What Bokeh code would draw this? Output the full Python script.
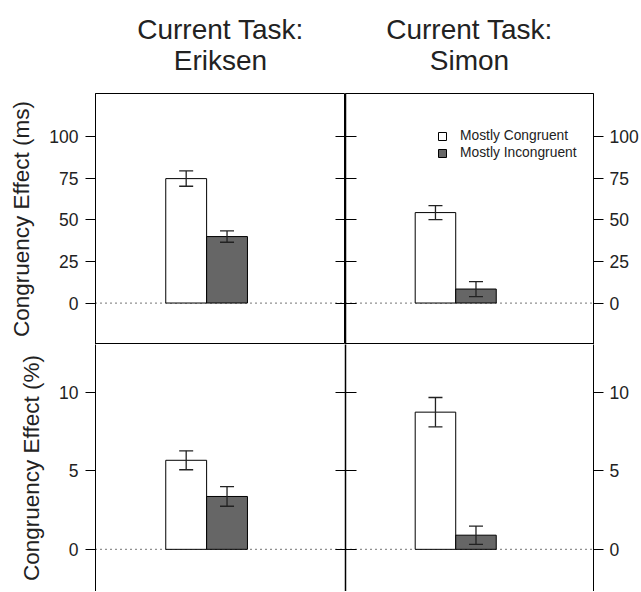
from bokeh.plotting import figure
from bokeh.models import (Range1d, LinearAxis, FixedTicker, Span, Whisker, TeeHead,
                          ColumnDataSource, Title, Legend, LegendItem)
from bokeh.layouts import gridplot
from bokeh.embed import file_html
from bokeh.resources import INLINE

# ---- data ----
tasks = ["Eriksen", "Simon"]
conditions = ["Mostly Congruent", "Mostly Incongruent"]
bar_x = [1, 2]
bar_colors = ["white", "#666666"]

rt_mc = [74.7, 54.3]
rt_mc_se = [4.6, 4.2]
rt_mi = [39.9, 8.4]
rt_mi_se = [3.4, 4.5]

err_mc = [5.66, 8.72]
err_mc_se = [0.60, 0.93]
err_mi = [3.36, 0.90]
err_mi_se = [0.62, 0.58]

rt_ticks = [0, 25, 50, 75, 100]
err_ticks = [0, 5, 10]
rt_label = "Congruency Effect (ms)"
err_label = "Congruency Effect (%)"

FONT = "Liberation Sans"
TICK_FS = "17.5px"


def make_panel(row, col, mc, mi, mc_se, mi_se, ticks, yr, ylabel):
    left = col == 0
    top = row == 0
    width = 345 if left else 296
    height = 344 if top else 247
    p = figure(width=width, height=height, output_backend="svg", toolbar_location=None,
               title=None, x_range=Range1d(-1.22, 4.9), y_range=Range1d(*yr),
               x_axis_location=None, y_axis_location=None,
               min_border_left=95 if left else 0, min_border_right=0 if left else 45,
               min_border_top=93 if top else 0, min_border_bottom=0)
    p.grid.visible = False
    p.background_fill_color = "white"
    p.border_fill_color = "white"
    if top:
        p.outline_line_color = "black"
        p.outline_line_width = 1
        p.outline_line_alpha = 1
    else:
        p.outline_line_color = None

    means = [mc, mi]
    ses = [mc_se, mi_se]
    src = ColumnDataSource(dict(
        x=bar_x, top=means,
        upper=[m + s for m, s in zip(means, ses)],
        lower=[m - s for m, s in zip(means, ses)],
        color=bar_colors, label=conditions))

    p.add_layout(Span(location=0, dimension="width", line_color="#222222",
                      line_dash="1 4", line_width=1.2, level="underlay"))
    r = p.vbar(x="x", top="top", bottom=0, width=1, source=src,
               fill_color="color", line_color="black", line_width=1)
    p.add_layout(Whisker(base="x", upper="upper", lower="lower", source=src,
                         line_color="#222222", line_width=1.3, level="annotation",
                         upper_head=TeeHead(size=14, line_color="#222222", line_width=1.3),
                         lower_head=TeeHead(size=14, line_color="#222222", line_width=1.3)))

    # labelled outer axis
    outer = LinearAxis(ticker=FixedTicker(ticks=ticks), minor_tick_line_color=None,
                       major_tick_out=10, major_tick_in=0,
                       major_label_text_font=FONT, major_label_text_font_size=TICK_FS,
                       major_label_text_color="#222222", major_label_standoff=6,
                       axis_line_color="black", major_tick_line_color="black")
    # inner (middle) axis: ticks crossing the shared edge, no labels
    inner = LinearAxis(ticker=FixedTicker(ticks=ticks), minor_tick_line_color=None,
                       major_tick_out=0, major_tick_in=10 if left else 11,
                       major_label_overrides={t: "" for t in ticks},
                       major_label_standoff=0,
                       axis_line_color="black", axis_line_width=1.5,
                       major_tick_line_color="black")
    if left:
        outer.axis_label = ylabel
        outer.axis_label_text_font = FONT
        outer.axis_label_text_font_size = "22.5px"
        outer.axis_label_text_font_style = "normal"
        outer.axis_label_text_color = "#222222"
        outer.axis_label_standoff = 12
        outer.major_label_standoff = 7
        p.add_layout(outer, "left")
        p.add_layout(inner, "right")
    else:
        p.add_layout(inner, "left")
        p.add_layout(outer, "right")

    if top:
        p.add_layout(Title(text="Current Task:\n" + tasks[col], align="center",
                           text_align="center",
                           text_font=FONT, text_font_size="28px",
                           text_font_style="normal", text_line_height=1.02,
                           text_color="#222222", standoff=0,
                           padding=(0, 0, 0, 17)), "above")
    if top and not left:
        legend = Legend(items=[LegendItem(label=conditions[0], renderers=[r], index=0),
                               LegendItem(label=conditions[1], renderers=[r], index=1)],
                        location=(92, 183), padding=0, margin=0, spacing=0,
                        glyph_width=10, glyph_height=10, label_height=17,
                        label_standoff=13, label_text_font=FONT,
                        label_text_font_size="13.8px", label_text_color="#222222",
                        border_line_color=None, background_fill_alpha=0)
        p.add_layout(legend)
    return p


p1 = make_panel(0, 0, rt_mc[0], rt_mi[0], rt_mc_se[0], rt_mi_se[0], rt_ticks, (-24.9, 125.8), rt_label)
p2 = make_panel(0, 1, rt_mc[1], rt_mi[1], rt_mc_se[1], rt_mi_se[1], rt_ticks, (-24.9, 125.8), rt_label)
p3 = make_panel(1, 0, err_mc[0], err_mi[0], err_mc_se[0], err_mi_se[0], err_ticks, (-2.68, 13.02), err_label)
p4 = make_panel(1, 1, err_mc[1], err_mi[1], err_mc_se[1], err_mi_se[1], err_ticks, (-2.68, 13.02), err_label)

grid = gridplot([[p1, p2], [p3, p4]], toolbar_location=None)
open("out.html", "w").write(file_html(grid, INLINE))
